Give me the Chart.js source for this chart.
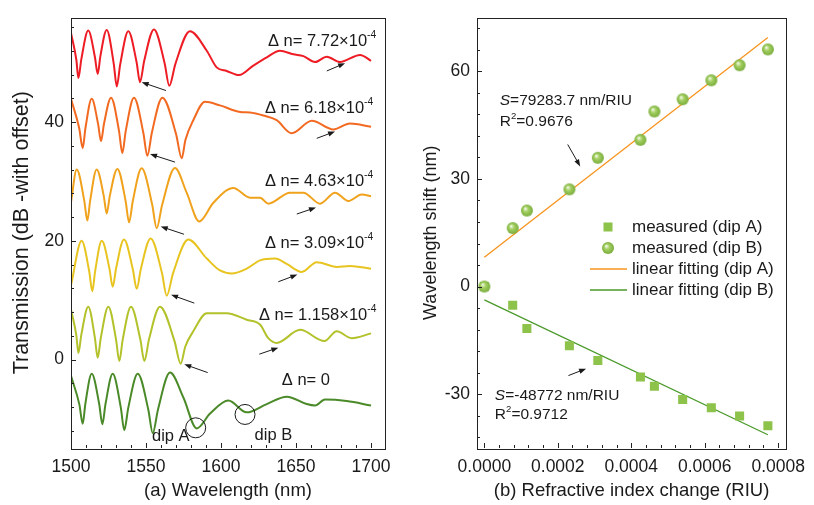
<!DOCTYPE html>
<html>
<head>
<meta charset="utf-8">
<script src="https://cdn.jsdelivr.net/npm/chart.js@4.4.1/dist/chart.umd.min.js"></script>
<style>
html, body { margin: 0; padding: 0; background: #fff; }
#wrap { position: relative; width: 814px; height: 505px; }
#left { position: absolute; left: 0; top: 0; width: 400px; height: 505px; }
#right { position: absolute; left: 400px; top: 0; width: 414px; height: 505px; }
</style>
</head>
<body>
<div id="wrap">
  <div id="left"><canvas id="spectraChart"></canvas></div>
  <div id="right"><canvas id="shiftChart"></canvas></div>
</div>
<script>
// ---- (a) spectra, one pair of arrays per curve (wavelength nm, dB with offset)
var wl772 = [1500,1503.6,1504.9,1506.9,1511.5,1515.9,1517.8,1519.6,1523.8,1528.5,1530.5,1532.8,1538.2,1543.7,1546,1548.8,1555.3,1562.4,1565.5,1569.6,1579.3,1590.5,1597.1,1603.8,1612,1621.5,1630.5,1639.3,1648.2,1654.9,1662.7,1670.5,1679.3,1692.7,1700];
var tr772 = [55.0,50.4,47.4,50.6,55.4,51.0,48.1,51.1,55.5,49.8,46.0,49.7,55.3,50.1,46.7,50.3,55.6,49.9,46.1,49.8,55.3,52.0,49.2,48.6,47.9,49.5,50.9,52.0,51.4,51.1,50.1,51.0,50.1,51.3,50.3];

var wl618 = [1500,1505.5,1507.8,1509.6,1513.8,1518.1,1520,1522,1526.7,1532,1534.2,1536.5,1542,1548.2,1550.9,1553.9,1560.9,1570,1573.8,1576.3,1581.5,1589.3,1599.3,1612.7,1619.3,1628.2,1637.1,1647.1,1660.5,1674.9,1686,1700];
var tr618 = [43.9,38.9,35.6,38.9,43.9,39.6,36.8,39.7,44.1,38.5,34.75,38.5,44.1,38.2,34.3,38.2,44.1,38.0,33.9,37.0,40.3,43.4,42.8,41.7,41.6,41.1,40.3,38.1,40.2,38.75,39.75,39.2];

var wl463 = [1500,1503.8,1508.8,1510.9,1512.8,1517.1,1521.8,1523.8,1525.9,1530.9,1536.4,1538.7,1541.2,1547.1,1554.1,1557.1,1560.8,1569.3,1577.1,1585.5,1594.9,1608.2,1619.3,1626,1631.5,1646,1654.9,1666,1676,1684.9,1693.8,1700];
var tr463 = [26.5,32.0,26.8,23.4,26.8,32.0,27.6,24.6,27.6,32.1,26.7,23.1,26.7,32.2,26.1,22.1,26.1,32.25,28.1,23.25,26.4,28.9,27.25,27.25,26.25,28.1,28.1,26.25,28.1,26.7,27.8,27.5];

var wl309 = [1500,1507.1,1512.1,1514.2,1516.1,1520.5,1525.6,1527.8,1530.1,1535.3,1541.2,1543.8,1546.6,1553.1,1560.6,1563.8,1568.1,1578.2,1590.5,1599.3,1607.1,1617.1,1626,1636,1643.8,1653.8,1663.8,1677.1,1686,1700];
var tr309 = [12.5,20.0,14.9,11.5,14.9,20.0,15.35,12.25,15.4,20.2,15.2,11.9,15.3,20.4,14.6,10.75,14.6,20.2,17.0,15.0,14.5,15.3,16.7,17.0,16.1,14.75,16.4,15.6,15.75,15.3];

var wl1158 = [1500,1503.6,1504.9,1506.9,1511.5,1515.9,1517.8,1519.9,1524.9,1530,1532.2,1534.5,1540,1546.2,1548.9,1552,1559.3,1569,1573.1,1576.2,1581.5,1590.5,1603.8,1617.1,1626,1631.5,1637.1,1652.7,1668.9,1677.1,1687.1,1700];
var tr1158 = [8.4,4.0,1.1,4.2,8.9,3.7,0.3,3.7,8.9,3.4,-0.25,3.4,8.9,3.4,-0.25,3.4,8.9,3.1,-0.7,2.2,4.75,7.8,7.8,6.7,5.9,3.6,2.8,5.0,3.1,4.75,3.6,4.4];

var wl0 = [1500,1505.6,1507.8,1509.6,1513.8,1518.8,1520.9,1523,1527.8,1533.2,1535.5,1538.2,1544.5,1551.5,1554.5,1558,1566,1574.9,1583.8,1592.7,1604.9,1617.1,1630.5,1643.8,1657.1,1662.7,1669.3,1683.8,1700];
var tr0 = [-2.75,-7.6,-10.8,-7.4,-2.4,-7.5,-10.9,-7.5,-2.4,-8.1,-11.9,-8.1,-2.4,-8.4,-12.4,-8.4,-2.2,-6.4,-11.6,-9.1,-6.9,-8.9,-7.5,-6.25,-7.5,-7.75,-6.75,-7.0,-7.75];

var wlTicks = [1500, 1550, 1600, 1650, 1700];
var trTicks = [0, 20, 40];

// ---- (b) wavelength shift vs refractive index change
var riuChange = [0, 0.0000772, 0.0001158, 0.0002316, 0.000309, 0.000425, 0.000463, 0.00054, 0.000618, 0.000695, 0.000772];
var shiftDipA = [0, -5.2, -11.7, -16.5, -20.6, -25.2, -27.8, -31.5, -33.8, -36.1, -38.8];
var shiftDipB = [0, 16.3, 21.2, 27.1, 35.9, 40.9, 48.8, 52.2, 57.5, 61.7, 66.1];
var fitX = [0, 0.000772];
var fitDipA = [8.2, 69.4];
var fitDipB = [-3.7, -41.3];
var riuTicks = [0, 0.0002, 0.0004, 0.0006, 0.0008];
var shiftTicks = [-30, 0, 30, 60];

var FONT = 'Arial, "Liberation Sans", Helvetica, sans-serif';
var INK = '#1a1a1a';
Chart.defaults.font.family = FONT;
Chart.defaults.color = INK;

function pairs(xs, ys) {
    return xs.map(function (x, i) { return { x: x, y: ys[i] }; });
}

function richText(ctx, parts, x, y, size) {
    var cx = x;
    parts.forEach(function (p) {
        var s = p.sup ? size * 0.62 : size;
        ctx.font = (p.italic ? 'italic ' : '') + s + 'px ' + FONT;
        ctx.fillText(p.t, cx, p.sup ? y - size * 0.38 : y);
        cx += ctx.measureText(p.t).width;
    });
}

function arrow(ctx, x1, y1, x2, y2) {
    var ang = Math.atan2(y2 - y1, x2 - x1), hl = 7, hw = 2.6;
    ctx.beginPath();
    ctx.moveTo(x1, y1);
    ctx.lineTo(x2 - Math.cos(ang) * hl * 0.8, y2 - Math.sin(ang) * hl * 0.8);
    ctx.stroke();
    ctx.beginPath();
    ctx.moveTo(x2, y2);
    ctx.lineTo(x2 - hl * Math.cos(ang) + hw * Math.sin(ang), y2 - hl * Math.sin(ang) - hw * Math.cos(ang));
    ctx.lineTo(x2 - hl * Math.cos(ang) - hw * Math.sin(ang), y2 - hl * Math.sin(ang) + hw * Math.cos(ang));
    ctx.closePath();
    ctx.fill();
}

// box + inward ticks (major and minor) on the bottom and left axes
function frameAndTicks(chart, xt, yt) {
    var ctx = chart.ctx, a = chart.chartArea, sx = chart.scales.x, sy = chart.scales.y;
    ctx.save();
    ctx.strokeStyle = '#222';
    ctx.lineWidth = 1;
    ctx.strokeRect(Math.round(a.left) + 0.5, Math.round(a.top) + 0.5, Math.round(a.right - a.left), Math.round(a.bottom - a.top));
    ctx.beginPath();
    for (var i = 0; i < xt.count; i++) {
        var px = Math.round(sx.getPixelForValue(xt.start + i * xt.step)) + 0.5;
        var len = (i % xt.every === xt.off) ? 5 : 3;
        ctx.moveTo(px, a.bottom);
        ctx.lineTo(px, a.bottom - len);
    }
    for (var j = 0; j < yt.count; j++) {
        var py = Math.round(sy.getPixelForValue(yt.start + j * yt.step)) + 0.5;
        var len2 = (j % yt.every === yt.off) ? 5 : 3;
        ctx.moveTo(a.left, py);
        ctx.lineTo(a.left + len2, py);
    }
    ctx.stroke();
    ctx.restore();
}

// ---- left chart
var spectraNotes = [
    { label: '7.72', x: 1631.3, y: 53.6, a: [1563.3, 45.3, 1547.1, 46.7], b: [1670.5, 48.6, 1682.7, 49.9] },
    { label: '6.18', x: 1629.3, y: 42.25, a: [1569.3, 33.25, 1552.7, 34.6], b: [1663.8, 37.25, 1676, 38.4] },
    { label: '4.63', x: 1629.3, y: 30.0, a: [1575.3, 21.1, 1559.8, 22.4], b: [1650.5, 24.5, 1663.3, 25.6] },
    { label: '3.09', x: 1629.3, y: 19.5, a: [1582.2, 9.5, 1566.7, 10.9], b: [1638.2, 13.1, 1650.9, 14.3] },
    { label: '1.158', x: 1625.3, y: 7.5, a: [1591.1, -2.2, 1575.5, -0.8], b: [1625.5, 0.9, 1638.2, 2.0] }
];

var spectraDecor = {
    id: 'spectraDecor',
    afterDraw: function (chart) {
        var ctx = chart.ctx, sx = chart.scales.x, sy = chart.scales.y;
        frameAndTicks(chart, { start: 1500, step: 10, count: 21, every: 5, off: 0 },
                             { start: -12, step: 4, count: 18, every: 5, off: 3 });
        ctx.save();
        ctx.fillStyle = INK;
        ctx.strokeStyle = INK;
        ctx.lineWidth = 1;
        ctx.textBaseline = 'middle';
        ctx.textAlign = 'left';
        spectraNotes.forEach(function (n) {
            richText(ctx, [{ t: '\u0394 n= ' + n.label + '\u00d710' }, { t: '-4', sup: true }],
                sx.getPixelForValue(n.x), sy.getPixelForValue(n.y), 16.5);
            arrow(ctx, sx.getPixelForValue(n.a[0]), sy.getPixelForValue(n.a[1]), sx.getPixelForValue(n.a[2]), sy.getPixelForValue(n.a[3]));
            arrow(ctx, sx.getPixelForValue(n.b[0]), sy.getPixelForValue(n.b[1]), sx.getPixelForValue(n.b[2]), sy.getPixelForValue(n.b[3]));
        });
        richText(ctx, [{ t: '\u0394 n= 0' }], sx.getPixelForValue(1640.5), sy.getPixelForValue(-3.6), 16.5);
        ctx.textAlign = 'center';
        ctx.font = '16.5px ' + FONT;
        ctx.fillText('dip A', sx.getPixelForValue(1566.5), sy.getPixelForValue(-13.0));
        ctx.fillText('dip B', sx.getPixelForValue(1634.9), sy.getPixelForValue(-12.75));
        ctx.beginPath();
        ctx.arc(sx.getPixelForValue(1583.1), sy.getPixelForValue(-11.5), 10, 0, Math.PI * 2);
        ctx.stroke();
        ctx.beginPath();
        ctx.arc(sx.getPixelForValue(1616), sy.getPixelForValue(-9.25), 10, 0, Math.PI * 2);
        ctx.stroke();
        ctx.restore();
    }
};

function curve(wl, tr, color) {
    return {
        data: pairs(wl, tr),
        borderColor: color,
        borderWidth: 2,
        pointRadius: 0,
        fill: false,
        cubicInterpolationMode: 'monotone'
    };
}

new Chart(document.getElementById('spectraChart'), {
    type: 'line',
    data: {
        datasets: [
            curve(wl772, tr772, '#ee1c24'),
            curve(wl618, tr618, '#f26a21'),
            curve(wl463, tr463, '#f0a21c'),
            curve(wl309, tr309, '#e8c420'),
            curve(wl1158, tr1158, '#b3c22a'),
            curve(wl0, tr0, '#4b8a28')
        ]
    },
    options: {
        responsive: true,
        maintainAspectRatio: false,
        animation: false,
        devicePixelRatio: 1,
        layout: { padding: { top: 13, right: 15, left: 0, bottom: 0 } },
        plugins: { legend: { display: false }, tooltip: { enabled: false } },
        scales: {
            x: {
                type: 'linear',
                min: 1500,
                max: 1709.3,
                afterBuildTicks: function (s) { s.ticks = wlTicks.map(function (v) { return { value: v }; }); },
                afterFit: function (s) { s.height = 57; },
                grid: { display: false, drawTicks: false },
                border: { display: false },
                ticks: { padding: 8.5, font: { size: 17.5 }, maxRotation: 0, callback: function (v) { return v; } },
                title: { display: true, text: '(a) Wavelength (nm)', font: { size: 18.5 }, padding: { top: 0, bottom: 3 } }
            },
            y: {
                min: -14.9,
                max: 57.6,
                afterBuildTicks: function (s) { s.ticks = trTicks.map(function (v) { return { value: v }; }); },
                afterFit: function (s) { s.width = 71; },
                grid: { display: false, drawTicks: false },
                border: { display: false },
                ticks: { padding: 7, font: { size: 17.5 } },
                title: { display: true, text: 'Transmission (dB -with offset)', font: { size: 21.5 }, padding: { top: 9, bottom: 0 } }
            }
        }
    },
    plugins: [spectraDecor]
});

// ---- right chart
function makeSphere(r) {
    var c = document.createElement('canvas');
    c.width = c.height = 2 * r + 2;
    var g = c.getContext('2d'), cx = r + 1, cy = r + 1;
    var grad = g.createRadialGradient(cx - r * 0.3, cy - r * 0.35, r * 0.05, cx, cy, r);
    grad.addColorStop(0, '#f6fbee');
    grad.addColorStop(0.4, '#a4d062');
    grad.addColorStop(1, '#79ad3c');
    g.fillStyle = grad;
    g.beginPath();
    g.arc(cx, cy, r, 0, Math.PI * 2);
    g.fill();
    return c;
}
var sphere = makeSphere(6);

var shiftDecor = {
    id: 'shiftDecor',
    afterDraw: function (chart) {
        var ctx = chart.ctx, sx = chart.scales.x, sy = chart.scales.y, a = chart.chartArea;
        frameAndTicks(chart, { start: 0, step: 0.00004, count: 21, every: 5, off: 0 },
                             { start: -42, step: 6, count: 20, every: 5, off: 2 });
        ctx.save();
        ctx.fillStyle = INK;
        ctx.strokeStyle = INK;
        ctx.lineWidth = 1;
        ctx.textBaseline = 'middle';
        ctx.textAlign = 'left';
        richText(ctx, [{ t: 'S', italic: true }, { t: '=79283.7 nm/RIU' }], sx.getPixelForValue(0.000042), sy.getPixelForValue(51.8), 15.5);
        richText(ctx, [{ t: 'R' }, { t: '2', sup: true }, { t: '=0.9676' }], sx.getPixelForValue(0.000042), sy.getPixelForValue(45.9), 15.5);
        arrow(ctx, sx.getPixelForValue(0.000227), sy.getPixelForValue(39.6), sx.getPixelForValue(0.000261), sy.getPixelForValue(33.5));
        richText(ctx, [{ t: 'S', italic: true }, { t: '=-48772 nm/RIU' }], sx.getPixelForValue(0.0000286), sy.getPixelForValue(-30.3), 15.5);
        richText(ctx, [{ t: 'R' }, { t: '2', sup: true }, { t: '=0.9712' }], sx.getPixelForValue(0.0000286), sy.getPixelForValue(-35.8), 15.5);
        arrow(ctx, sx.getPixelForValue(0.000229), sy.getPixelForValue(-24.8), sx.getPixelForValue(0.000277), sy.getPixelForValue(-22.9));

        // legend
        var lx = a.left + 131, tx = a.left + 155, ly = 227;
        ctx.font = '17px ' + FONT;
        ctx.fillStyle = '#8dc24b';
        ctx.fillRect(lx - 4.5, ly - 4.5, 9, 9);
        ctx.drawImage(sphere, lx - 7, ly + 21 - 7);
        ctx.lineWidth = 1.3;
        ctx.strokeStyle = '#f7941d';
        ctx.beginPath(); ctx.moveTo(lx - 18, ly + 42); ctx.lineTo(lx + 19, ly + 42); ctx.stroke();
        ctx.strokeStyle = '#4a9a2a';
        ctx.beginPath(); ctx.moveTo(lx - 18, ly + 63); ctx.lineTo(lx + 19, ly + 63); ctx.stroke();
        ctx.fillStyle = INK;
        ctx.fillText('measured (dip A)', tx, ly);
        ctx.fillText('measured (dip B)', tx, ly + 21);
        ctx.fillText('linear fitting (dip A)', tx, ly + 42);
        ctx.fillText('linear fitting (dip B)', tx, ly + 63);
        ctx.restore();
    }
};

new Chart(document.getElementById('shiftChart'), {
    type: 'scatter',
    data: {
        datasets: [
            { label: 'measured (dip B)', data: pairs(riuChange, shiftDipB), pointStyle: sphere, pointRadius: 6 },
            { label: 'measured (dip A)', data: pairs(riuChange, shiftDipA), pointStyle: 'rect', pointRadius: 6.4, backgroundColor: '#8dc24b', borderWidth: 0 },
            { label: 'linear fitting (dip A)', data: pairs(fitX, fitDipA), showLine: true, borderColor: '#f7941d', borderWidth: 1.3, pointRadius: 0 },
            { label: 'linear fitting (dip B)', data: pairs(fitX, fitDipB), showLine: true, borderColor: '#4a9a2a', borderWidth: 1.3, pointRadius: 0 }
        ]
    },
    options: {
        responsive: true,
        maintainAspectRatio: false,
        animation: false,
        devicePixelRatio: 1,
        layout: { padding: { top: 13, right: 22, left: 0, bottom: 0 } },
        plugins: { legend: { display: false }, tooltip: { enabled: false } },
        scales: {
            x: {
                type: 'linear',
                min: -0.00002,
                max: 0.000822,
                afterBuildTicks: function (s) { s.ticks = riuTicks.map(function (v) { return { value: v }; }); },
                afterFit: function (s) { s.height = 57; },
                grid: { display: false, drawTicks: false },
                border: { display: false },
                ticks: { padding: 8.5, font: { size: 17.5 }, maxRotation: 0, callback: function (v) { return Number(v).toFixed(4); } },
                title: { display: true, text: '(b) Refractive index change (RIU)', font: { size: 18.5 }, padding: { top: 0, bottom: 3 } }
            },
            y: {
                min: -45,
                max: 75,
                afterBuildTicks: function (s) { s.ticks = shiftTicks.map(function (v) { return { value: v }; }); },
                afterFit: function (s) { s.width = 77; },
                grid: { display: false, drawTicks: false },
                border: { display: false },
                ticks: { padding: 7, font: { size: 17.5 } },
                title: { display: true, text: 'Wavelength shift (nm)', font: { size: 18 }, padding: { top: 20, bottom: 0 } }
            }
        }
    },
    plugins: [shiftDecor]
});
</script>
</body>
</html>
